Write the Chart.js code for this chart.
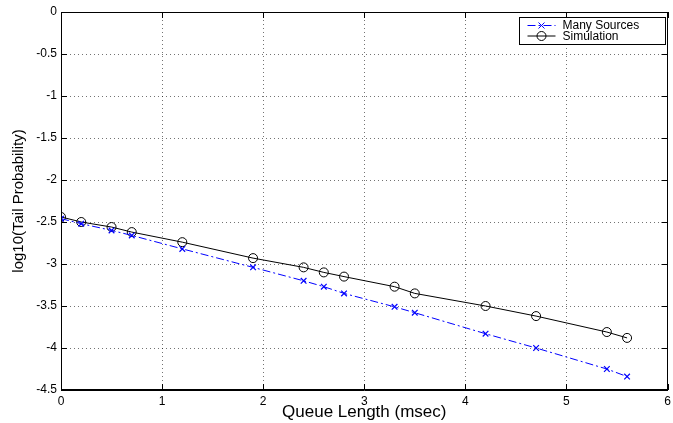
<!DOCTYPE html>
<html>
<head>
<meta charset="utf-8">
<script src="https://cdn.jsdelivr.net/npm/chart.js@4.4.1/dist/chart.umd.min.js"></script>
<style>
  html, body { margin: 0; padding: 0; background: #fff; }
  #wrap { width: 673px; height: 423px; }
</style>
</head>
<body>
<div id="wrap"><canvas id="tailChart" width="673" height="423"></canvas></div>
<script>
// queue length values (msec) where both curves were sampled
const queueLength = [0, 0.2, 0.5, 0.7, 1.2, 1.9, 2.4, 2.6, 2.8, 3.3, 3.5, 4.2, 4.7, 5.4, 5.6];
const manySources = [-2.46, -2.52, -2.60, -2.66, -2.82, -3.04, -3.20, -3.27, -3.35, -3.51, -3.58, -3.83, -4.00, -4.25, -4.34];
const simulation = [-2.44, -2.50, -2.56, -2.62, -2.74, -2.93, -3.04, -3.10, -3.15, -3.27, -3.35, -3.50, -3.62, -3.81, -3.88];
const seriesNames = ['Many Sources', 'Simulation'];
const xTicks = [0, 1, 2, 3, 4, 5, 6];
const yTicks = [0, -0.5, -1, -1.5, -2, -2.5, -3, -3.5, -4, -4.5];

const FONT = 'Liberation Sans, Arial, Helvetica, sans-serif';

const toPoints = ys => queueLength.map((x, i) => ({ x: x, y: ys[i] }));

// box round the plot, inward ticks on all four sides, legend inside the top right corner
const matlabAxes = {
    id: 'matlabAxes',
    afterDraw(chart) {
        const { ctx, chartArea: a, scales } = chart;
        ctx.save();
        ctx.strokeStyle = '#000';
        ctx.lineWidth = 1;
        ctx.setLineDash([]);
        ctx.strokeRect(Math.round(a.left) + 0.5, Math.round(a.top) + 0.5,
            Math.round(a.right - a.left) - 1, Math.round(a.bottom - a.top) - 1);
        ctx.beginPath();
        xTicks.forEach(v => {
            const px = Math.round(scales.x.getPixelForValue(v)) + 0.5;
            ctx.moveTo(px, a.bottom); ctx.lineTo(px, a.bottom - 6);
            ctx.moveTo(px, a.top); ctx.lineTo(px, a.top + 6);
        });
        yTicks.forEach(v => {
            const py = Math.round(scales.y.getPixelForValue(v)) + 0.5;
            ctx.moveTo(a.left, py); ctx.lineTo(a.left + 6, py);
            ctx.moveTo(a.right, py); ctx.lineTo(a.right - 6, py);
        });
        ctx.stroke();

        // legend
        const bx = 519.5, by = 17.5, bw = 146, bh = 27;
        ctx.fillStyle = '#fff';
        ctx.fillRect(bx, by, bw, bh);
        ctx.strokeRect(bx, by, bw, bh);
        ctx.font = '12px ' + FONT;
        ctx.textBaseline = 'middle';
        chart.data.datasets.forEach((ds, i) => {
            const ly = by + 8 + i * 10.5;
            ctx.strokeStyle = ds.borderColor;
            ctx.setLineDash(ds.borderDash || []);
            ctx.beginPath();
            ctx.moveTo(bx + 8, ly); ctx.lineTo(bx + 36, ly);
            ctx.stroke();
            ctx.setLineDash([]);
            ctx.beginPath();
            const cx = bx + 22;
            if (ds.pointStyle === 'circle') {
                ctx.arc(cx, ly, ds.pointRadius, 0, Math.PI * 2);
            } else {
                const r = ds.pointRadius * 0.75;
                ctx.moveTo(cx - r, ly - r); ctx.lineTo(cx + r, ly + r);
                ctx.moveTo(cx - r, ly + r); ctx.lineTo(cx + r, ly - r);
            }
            ctx.stroke();
            ctx.fillStyle = '#000';
            ctx.fillText(ds.label, bx + 43, ly + 0.5);
        });
        ctx.restore();
    }
};

new Chart(document.getElementById('tailChart'), {
    type: 'scatter',
    data: {
        datasets: [{
            label: seriesNames[0],
            data: toPoints(manySources),
            showLine: true,
            borderColor: '#0000ff',
            backgroundColor: 'transparent',
            borderWidth: 1,
            borderDash: [8, 3, 2, 3],
            pointStyle: 'crossRot',
            pointRadius: 4,
            pointBorderWidth: 1.2,
            pointBorderColor: '#0000ff'
        }, {
            label: seriesNames[1],
            data: toPoints(simulation),
            showLine: true,
            borderColor: '#000',
            backgroundColor: 'transparent',
            borderWidth: 1,
            pointStyle: 'circle',
            pointRadius: 4.5,
            pointBorderWidth: 1,
            pointBorderColor: '#000'
        }]
    },
    options: {
        responsive: false,
        animation: false,
        layout: { padding: { top: 12, right: 5, left: 0, bottom: 0 } },
        plugins: {
            legend: { display: false },
            tooltip: { enabled: false }
        },
        scales: {
            x: {
                type: 'linear',
                min: 0,
                max: 6,
                afterBuildTicks: s => { s.ticks = xTicks.map(v => ({ value: v })); },
                afterFit: s => { s.height = 33; s.paddingLeft = 0; s.paddingRight = 0; },
                grid: { color: 'rgba(0,0,0,0.55)', drawTicks: false },
                border: { display: true, color: '#000', dash: [1, 3] },
                ticks: { color: '#000', padding: 4, font: { family: FONT, size: 12 } },
                title: {
                    display: true,
                    text: 'Queue Length (msec)',
                    color: '#000',
                    padding: { top: 3, bottom: 0 },
                    font: { family: FONT, size: 17 }
                }
            },
            y: {
                type: 'linear',
                min: -4.5,
                max: 0,
                afterBuildTicks: s => { s.ticks = yTicks.map(v => ({ value: v })); },
                afterFit: s => { s.width = 61; },
                grid: { color: 'rgba(0,0,0,0.55)', drawTicks: false },
                border: { display: true, color: '#000', dash: [1, 3] },
                ticks: { color: '#000', padding: 4, font: { family: FONT, size: 12 }, callback: v => String(v) },
                title: {
                    display: true,
                    text: 'log10(Tail Probability)',
                    color: '#000',
                    padding: { top: 10, bottom: 0 },
                    font: { family: FONT, size: 15 }
                }
            }
        }
    },
    plugins: [matlabAxes]
});
</script>
</body>
</html>
